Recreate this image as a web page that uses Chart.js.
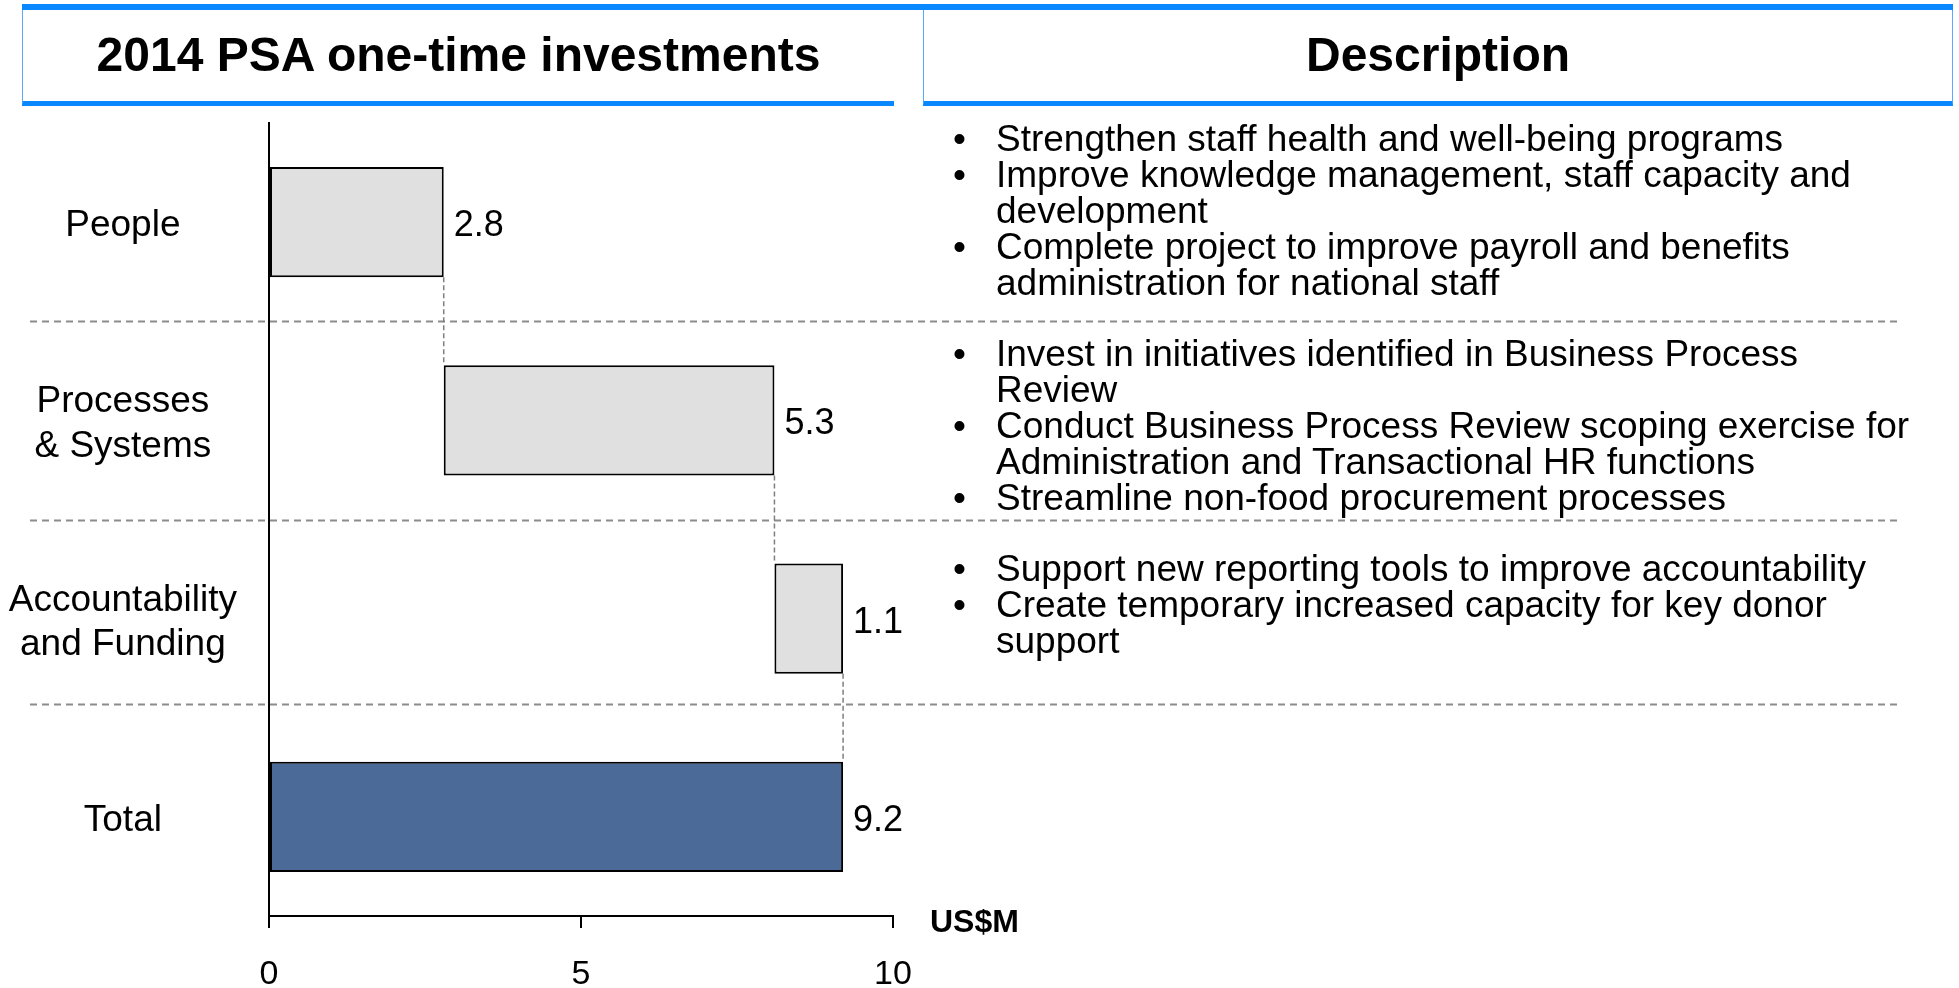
<!DOCTYPE html>
<html>
<head>
<meta charset="utf-8">
<script src="https://cdn.jsdelivr.net/npm/chart.js@4.4.0/dist/chart.umd.min.js"></script>
<style>
  body { margin: 0; background: #fff; font-family: "Liberation Sans", Arial, sans-serif; color: #000; }
  #wrap { position: relative; width: 1959px; height: 988px; overflow: hidden; }
  #chart { position: absolute; left: 0; top: 0; }
  .topbar { position: absolute; left: 22px; top: 4px; width: 1931px; height: 6px; background: #0a88ff; }
  .hdr {
    position: absolute; top: 10px; height: 96px; box-sizing: border-box;
    border-left: 1px solid #5aa9ff; border-bottom: 5px solid #0a88ff;
    display: flex; align-items: center; justify-content: center;
    font-weight: bold; font-size: 48px; padding-bottom: 2px;
  }
  .desc { position: absolute; left: 953px; font-size: 37px; line-height: 36px; white-space: nowrap; }
  .item { position: relative; padding-left: 43px; }
  .item span { position: absolute; left: 0; }
  .unit { position: absolute; left: 930px; top: 903px; font-weight: bold; font-size: 32px; line-height: 36px; }
</style>
</head>
<body>
<div id="wrap">
  <canvas id="chart" width="1959" height="988"></canvas>
  <div class="topbar"></div>
  <div class="hdr" style="left:22px;width:872px;">2014 PSA one-time investments</div>
  <div class="hdr" style="left:923px;width:1030px;border-right:1px solid #5aa9ff;">Description</div>

  <div class="desc" style="top:121px">
    <div class="item"><span>•</span>Strengthen staff health and well-being programs</div>
    <div class="item"><span>•</span>Improve knowledge management, staff capacity and<br>development</div>
    <div class="item"><span>•</span>Complete project to improve payroll and benefits<br>administration for national staff</div>
  </div>
  <div class="desc" style="top:336px">
    <div class="item"><span>•</span>Invest in initiatives identified in Business Process<br>Review</div>
    <div class="item"><span>•</span>Conduct Business Process Review scoping exercise for<br>Administration and Transactional HR functions</div>
    <div class="item"><span>•</span>Streamline non-food procurement processes</div>
  </div>
  <div class="desc" style="top:551px">
    <div class="item"><span>•</span>Support new reporting tools to improve accountability</div>
    <div class="item"><span>•</span>Create temporary increased capacity for key donor<br>support</div>
  </div>
  <div class="unit">US$M</div>
</div>
<script>
  const categories = [["People"], ["Processes", "& Systems"], ["Accountability", "and Funding"], ["Total"]];
  const increments = [2.8, 5.3, 1.1];
  const total = 9.2;
  const xTicks = [0, 5, 10];
  // dashed row dividers, in category units
  const separators = [0.5, 1.5, 2.43];

  let run = 0;
  const ranges = increments.map(function (v) {
    const r = [run, +(run + v).toFixed(1)];
    run += v;
    return r;
  });
  ranges.push([0, total]);
  const valueLabels = increments.concat([total]);
  const colors = ["#e0e0e0", "#e0e0e0", "#e0e0e0", "#4c6a98"];

  const font = "Liberation Sans";

  const decor = {
    id: "decor",
    beforeDatasetsDraw(chart) {
      const ctx = chart.ctx;
      const y = chart.scales.y;
      ctx.save();
      ctx.strokeStyle = "#8c8c8c";
      ctx.lineWidth = 2;
      ctx.setLineDash([7, 5]);
      separators.forEach(function (s) {
        const py = Math.round(y.getPixelForValue(s)) + 0.5;
        ctx.beginPath();
        ctx.moveTo(30, py);
        ctx.lineTo(1900, py);
        ctx.stroke();
      });
      ctx.restore();
    },
    afterDatasetsDraw(chart) {
      const ctx = chart.ctx;
      const bars = chart.getDatasetMeta(0).data;
      ctx.save();
      // waterfall connectors
      ctx.strokeStyle = "#7f7f7f";
      ctx.lineWidth = 1.5;
      ctx.setLineDash([5, 3]);
      for (let i = 0; i < bars.length - 1; i++) {
        const a = bars[i].getProps(["x", "y", "height"], true);
        const b = bars[i + 1].getProps(["x", "y", "height"], true);
        ctx.beginPath();
        ctx.moveTo(a.x, a.y + a.height / 2);
        ctx.lineTo(a.x, b.y - b.height / 2);
        ctx.stroke();
      }
      ctx.setLineDash([]);
      ctx.fillStyle = "#000";
      ctx.font = "36px '" + font + "'";
      ctx.textBaseline = "middle";
      ctx.textAlign = "left";
      bars.forEach(function (bar, i) {
        const p = bar.getProps(["x", "y"], true);
        ctx.fillText(valueLabels[i].toFixed(1), p.x + 10, p.y + 4);
      });
      ctx.restore();
    }
  };

  new Chart(document.getElementById("chart"), {
    type: "bar",
    data: {
      labels: categories,
      datasets: [
        {
          data: ranges,
          backgroundColor: colors,
          borderColor: "#000",
          borderWidth: 2,
          borderSkipped: false,
          barPercentage: 0.555,
          categoryPercentage: 1,
        },
      ],
    },
    options: {
      indexAxis: "y",
      responsive: false,
      animation: false,
      layout: { padding: { left: 0, top: 123, right: 1066, bottom: 0 } },
      plugins: { legend: { display: false }, tooltip: { enabled: false } },
      scales: {
        y: {
          type: "category",
          offset: true,
          grid: { display: false, drawTicks: false },
          border: { display: true, color: "#000", width: 2 },
          ticks: {
            color: "#000",
            font: { family: font, size: 37, lineHeight: 1.2 },
            crossAlign: "center",
            padding: 32,
            labelOffset: 4,
          },
          afterFit: function (s) { s.width = 269; },
        },
        x: {
          min: 0,
          max: 10,
          grid: { drawOnChartArea: false, drawTicks: true, tickLength: 12, color: "#000", lineWidth: 2 },
          border: { display: true, color: "#000", width: 2 },
          ticks: { color: "#000", font: { family: font, size: 34 }, padding: 26, maxRotation: 0 },
          afterBuildTicks: function (s) { s.ticks = xTicks.map(function (v) { return { value: v }; }); },
          afterFit: function (s) { s.height = 72; },
        },
      },
    },
    plugins: [decor],
  });
</script>
</body>
</html>
